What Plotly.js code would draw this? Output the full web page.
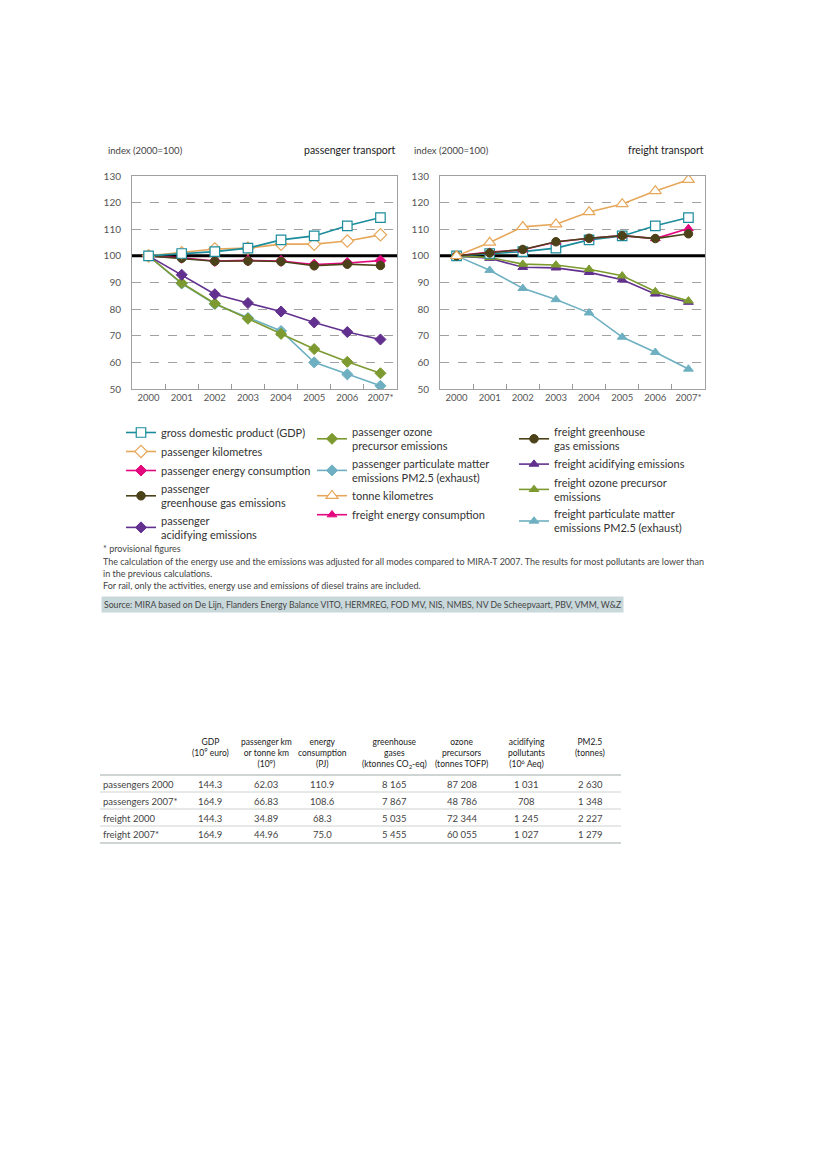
<!DOCTYPE html>
<html>
<head>
<meta charset="utf-8">
<script src="https://cdn.plot.ly/plotly-3.0.1.min.js"></script>
<style>html,body{margin:0;padding:0;background:#fff;}#chart{width:826px;height:1169px;}</style>
</head>
<body>
<div id="chart"></div>
<script>
// ---------- data ----------
const years = ['2000','2001','2002','2003','2004','2005','2006','2007*'];
const yTicks = [50,60,70,80,90,100,110,120,130];
const dashedGrid = [60,70,80,90,110,120];

const gdp             = [100,100.9,101.6,102.9,106.0,107.5,111.3,114.4];
const passengerKm     = [100,101.2,102.6,102.9,104.4,104.4,105.6,107.9];
const passengerEnergy = [100,99.3,98.1,98.3,98.1,96.7,97.3,98.2];
const passengerGhg    = [100,99.1,98.0,98.1,97.9,96.3,96.9,96.4];
const passengerAcid   = [100,92.9,85.6,82.3,79.1,75.0,71.4,68.6];
const passengerOzone  = [100,89.8,82.1,76.4,70.7,65.0,60.2,55.9];
const passengerPm     = [100,89.6,81.9,76.7,71.8,60.0,55.5,51.2];

const tonneKm       = [100,105.0,110.9,111.9,116.5,119.5,124.4,128.6];
const freightEnergy = [100,101.4,102.3,105.2,106.6,107.6,106.5,110.3];
const freightGhg    = [100,101.1,102.4,105.3,106.6,107.6,106.5,108.3];
const freightAcid   = [100,99.1,95.7,95.5,93.8,91.0,85.7,82.6];
const freightOzone  = [100,99.4,96.9,96.6,95.0,92.5,86.6,83.1];
const freightPm     = [100,94.6,87.8,83.6,78.6,69.5,63.8,57.5];

const notes = [
  '* provisional figures',
  'The calculation of the energy use and the emissions was adjusted for all modes compared to MIRA-T 2007. The results for most pollutants are lower than',
  'in the previous calculations.',
  'For rail, only the activities, energy use and emissions of diesel trains are included.'
];
const sourceText = 'Source: MIRA based on De Lijn, Flanders Energy Balance VITO, HERMREG, FOD MV, NIS, NMBS, NV De Scheepvaart, PBV, VMM, W&Z';

const tableHeader = ['GDP<br>(10<sup>9</sup> euro)', 'passenger km<br>or tonne km<br>(10<sup>9</sup>)', 'energy<br>consumption<br>(PJ)',
  'greenhouse<br>gases<br>(ktonnes CO<sub>2</sub>-eq)', 'ozone<br>precursors<br>(tonnes TOFP)', 'acidifying<br>pollutants<br>(10<sup>6</sup> Aeq)', 'PM2.5<br>(tonnes)'];
const tableRows   = ['passengers 2000','passengers 2007*','freight 2000','freight 2007*'];
const tableGdp    = ['144.3','164.9','144.3','164.9'];
const tableKm     = ['62.03','66.83','34.89','44.96'];
const tableEnergy = ['110.9','108.6','68.3','75.0'];
const tableGhg    = ['8 165','7 867','5 035','5 455'];
const tableOzone  = ['87 208','48 786','72 344','60 055'];
const tableAcid   = ['1 031','708','1 245','1 027'];
const tablePm     = ['2 630','1 348','2 227','1 279'];
const tableColumns = [tableGdp, tableKm, tableEnergy, tableGhg, tableOzone, tableAcid, tablePm];

// ---------- helpers ----------
const W = 826, H = 1169;
const X = p => p / W;
const Y = p => 1 - p / H;
const FONT = 'Lato, "Open Sans", sans-serif';

const C = {
  gdp:'#1b8c9b', km:'#e6a75a', energy:'#e4087f', ghg:'#4b4219',
  acid:'#62308e', ozone:'#7c9a30', pm:'#6eb0c1'
};

function tr(name, y, color, symbol, axis, legend, rank, opts) {
  opts = opts || {};
  return Object.assign({
    type:'scatter', mode:'lines+markers', x:years, y:y, name:name,
    xaxis: axis === 1 ? 'x' : 'x2', yaxis: axis === 1 ? 'y' : 'y2',
    line:{color:color, width:1.6},
    marker:{symbol:symbol, size:8.5, color:color, line:{color:color, width:1}},
    legend:legend, legendrank:rank
  }, opts);
}
const openMarker = (sym, color, size) => ({symbol:sym, size:size, color:'#ffffff', line:{color:color, width:1.2}});

const data = [
  // passenger chart
  tr('passenger particulate matter<br>emissions PM2.5 (exhaust)', passengerPm, C.pm, 'diamond', 1, 'legend2', 2),
  tr('passenger ozone<br>precursor emissions', passengerOzone, C.ozone, 'diamond', 1, 'legend2', 1),
  tr('passenger<br>acidifying emissions', passengerAcid, C.acid, 'diamond', 1, 'legend', 5),
  tr('passenger energy consumption', passengerEnergy, C.energy, 'diamond', 1, 'legend', 3),
  tr('passenger<br>greenhouse gas emissions', passengerGhg, C.ghg, 'circle', 1, 'legend', 4),
  tr('passenger kilometres', passengerKm, C.km, 'diamond', 1, 'legend', 2, {marker:openMarker('diamond', C.km, 9.5)}),
  tr('gross domestic product (GDP)', gdp, C.gdp, 'square', 1, 'legend', 1, {marker:openMarker('square', C.gdp, 9.5)}),
  // freight chart
  tr('freight particulate matter<br>emissions PM2.5 (exhaust)', freightPm, C.pm, 'triangle-up', 2, 'legend3', 4),
  tr('freight acidifying emissions', freightAcid, C.acid, 'triangle-up', 2, 'legend3', 2),
  tr('freight ozone precursor<br>emissions', freightOzone, C.ozone, 'triangle-up', 2, 'legend3', 3),
  tr('GDP', gdp, C.gdp, 'square', 2, 'legend', 9, {marker:openMarker('square', C.gdp, 9.5), showlegend:false}),
  tr('freight energy consumption', freightEnergy, C.energy, 'triangle-up', 2, 'legend2', 4),
  tr('freight greenhouse<br>gas emissions', freightGhg, C.ghg, 'circle', 2, 'legend3', 1),
  tr('tonne kilometres', tonneKm, C.km, 'triangle-up', 2, 'legend2', 3, {marker:openMarker('triangle-up', C.km, 10.5)})
];

const axisX = (dom, anchor) => ({
  domain:dom, anchor:anchor, type:'category', range:[-0.5, 7.5],
  showline:true, mirror:true, linecolor:'#a0a0a0', linewidth:1,
  ticks:'inside', tickson:'boundaries', ticklen:5, tickcolor:'#999',
  showgrid:false, zeroline:false, fixedrange:true, tickangle:0,
  tickfont:{family:FONT, size:9.5, color:'#555'}
});
const axisY = (anchor) => ({
  domain:[Y(389), Y(176)], range:[50,130], tickmode:'array', tickvals:yTicks, anchor:anchor,
  showline:true, mirror:true, linecolor:'#a0a0a0', linewidth:1,
  showgrid:false,
  minor:{tickmode:'array', tickvals:dashedGrid, showgrid:true, gridcolor:'#8a8a8a', griddash:'dash', gridwidth:0.8, ticks:''},
  zeroline:false, ticks:'', ticklabelstandoff:8, fixedrange:true,
  tickfont:{family:FONT, size:10, color:'#555'}
});

const legendBase = (x, y) => ({
  x:X(x), y:Y(y), xanchor:'left', yanchor:'top', orientation:'v',
  bgcolor:'rgba(0,0,0,0)', borderwidth:0, itemwidth:30, tracegroupgap:0,
  font:{family:FONT, size:11, color:'#333'}, traceorder:'normal'
});

const ann = [];
function text(t, x, y, opts) {
  ann.push(Object.assign({text:t, x:X(x), y:Y(y), xref:'paper', yref:'paper', showarrow:false,
    xanchor:'left', yanchor:'middle', font:{family:FONT, size:9.5, color:'#444'}}, opts || {}));
}
text('index (2000=100)', 106, 150);
text('index (2000=100)', 412, 150);
text('passenger transport', 398, 150, {xanchor:'right', font:{family:FONT, size:10.5, color:'#222'}});
text('freight transport', 706, 150, {xanchor:'right', font:{family:FONT, size:10.5, color:'#222'}});
const noteY = [548, 561, 573, 585];
notes.forEach((n, i) => text(n, 101, noteY[i], {font:{family:FONT, size:9, color:'#444'}}));
text(sourceText, 101, 604, {bgcolor:'#c9d8db', borderpad:2, font:{family:FONT, size:8.7, color:'#444'}});

// table as text laid out from the arrays
const colCenters = [210, 266, 322, 394, 462, 526, 590];
const rowY = [784, 801, 818, 834];
tableHeader.forEach((h, j) => text(h, colCenters[j], 735, {xanchor:'center', yanchor:'top',
  font:{family:FONT, size:8.5, color:'#222'}}));
tableRows.forEach((r, i) => {
  text(r, 101, rowY[i], {font:{family:FONT, size:9.5, color:'#444'}});
  tableColumns.forEach((col, j) => text(col[i], colCenters[j], rowY[i], {xanchor:'center',
    font:{family:FONT, size:9.5, color:'#444'}}));
});

const shapes = [
  {type:'line', xref:'x domain', yref:'y', x0:0, x1:1, y0:100, y1:100, line:{color:'#000', width:3}, layer:'below'},
  {type:'line', xref:'x2 domain', yref:'y2', x0:0, x1:1, y0:100, y1:100, line:{color:'#000', width:3}, layer:'below'}
];
const rules = [[775, 2], [792, 1.2], [809, 1.2], [826, 1.2], [843, 2]];
rules.forEach(r => shapes.push({type:'line', xref:'paper', yref:'paper', x0:X(100), x1:X(621), y0:Y(r[0]), y1:Y(r[0]),
  line:{color:'#cfd4d4', width:r[1]}}));

const layout = {
  width:W, height:H, margin:{l:0, r:0, t:0, b:0},
  paper_bgcolor:'#fff', plot_bgcolor:'#fff',
  font:{family:FONT, color:'#444'},
  xaxis:axisX([X(132), X(397)], 'y'), yaxis:axisY('x'),
  xaxis2:axisX([X(440), X(705)], 'y2'), yaxis2:axisY('x2'),
  showlegend:true,
  legend:legendBase(121, 418),
  legend2:legendBase(312, 418),
  legend3:legendBase(514, 418),
  annotations:ann, shapes:shapes
};

Plotly.newPlot('chart', data, layout, {displayModeBar:false, staticPlot:true});
</script>
</body>
</html>
